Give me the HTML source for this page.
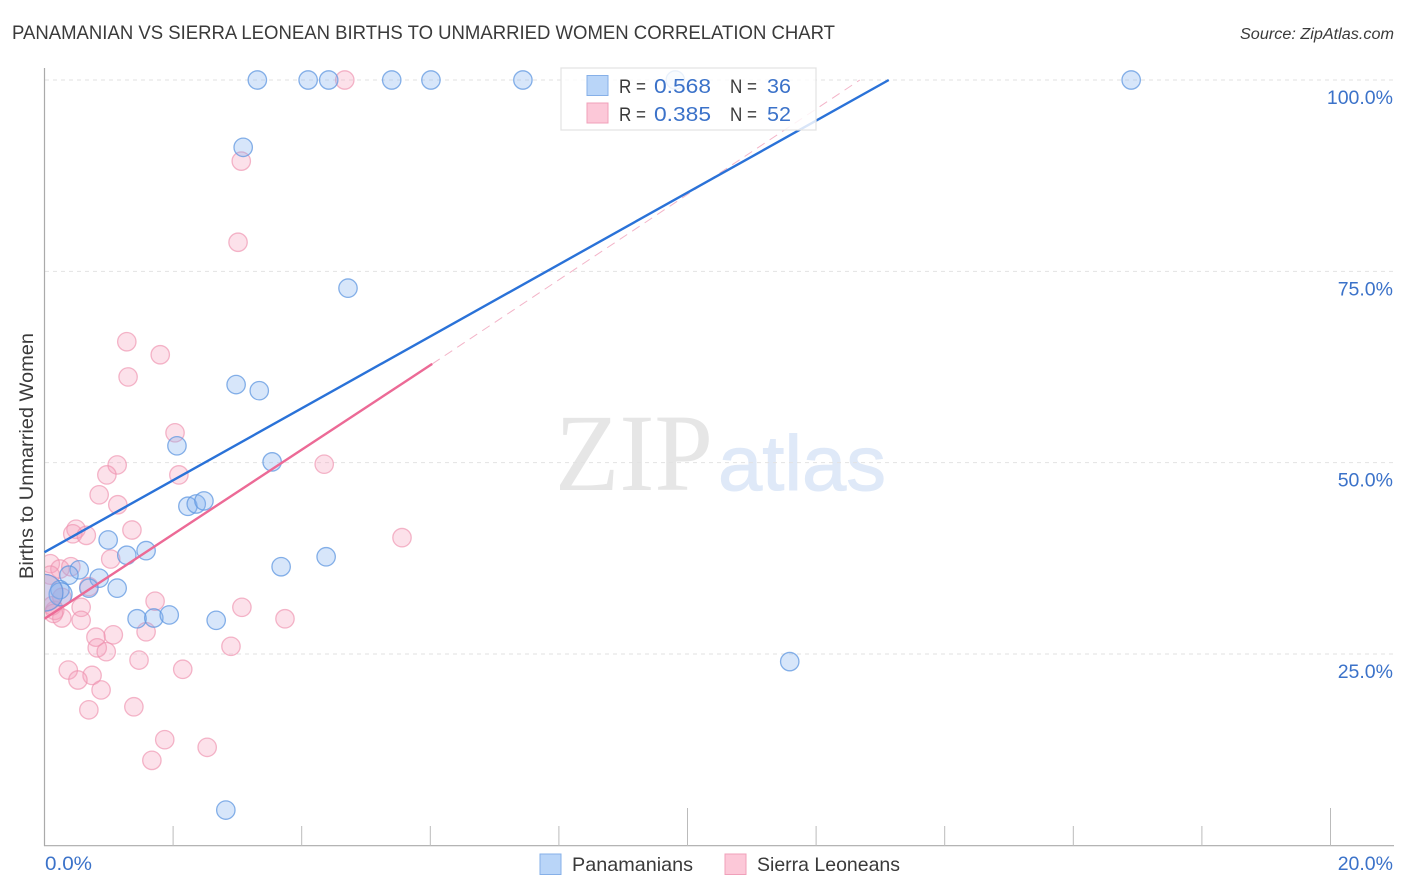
<!DOCTYPE html>
<html lang="en">
<head>
<meta charset="utf-8">
<title>Panamanian vs Sierra Leonean Births to Unmarried Women Correlation Chart</title>
<style>
html,body{margin:0;padding:0;background:#fff;}
svg{display:block;font-family:"Liberation Sans",sans-serif;}
</style>
</head>
<body>
<svg id="chart" xmlns="http://www.w3.org/2000/svg" width="1406" height="892" viewBox="0 0 1406 892">
  <defs>
    <clipPath id="plot-clip"><rect x="45" y="60" width="1349" height="786"/></clipPath>
  </defs>
  <rect x="0" y="0" width="1406" height="892" fill="#ffffff"/>
  <text x="12" y="39" font-size="19" fill="#3a3a3a" textLength="823" lengthAdjust="spacingAndGlyphs">PANAMANIAN VS SIERRA LEONEAN BIRTHS TO UNMARRIED WOMEN CORRELATION CHART</text>
  <text x="1394" y="39" font-size="15.5" font-style="italic" fill="#3a3a3a" text-anchor="end" textLength="154" lengthAdjust="spacingAndGlyphs">Source: ZipAtlas.com</text>
  <g id="watermark">
    <text x="555" y="490" font-family="'Liberation Serif',serif" font-size="110" fill="#e6e6e6" textLength="158" lengthAdjust="spacingAndGlyphs">ZIP</text>
    <text x="718" y="490" font-size="78" fill="#dfe9f8" stroke="#dfe9f8" stroke-width="1" textLength="168" lengthAdjust="spacingAndGlyphs">atlas</text>
  </g>
  <g id="grid"></g>
  <g id="axes"></g>
  <g id="pink-points" clip-path="url(#plot-clip)"></g>
  <g id="blue-points" clip-path="url(#plot-clip)"></g>
  <g id="trends"></g>
  <text transform="translate(33,456) rotate(-90)" font-size="19" fill="#3a3a3a" text-anchor="middle" textLength="246" lengthAdjust="spacingAndGlyphs">Births to Unmarried Women</text>
  <g id="ticklabels"></g>
  <g>
    <rect x="561" y="68" width="255" height="62" fill="#ffffff" fill-opacity="0.82" stroke="#e2e2e2" stroke-width="1.2"/>
    <rect x="587" y="75.500" width="21" height="20" fill="#b9d5f8" stroke="#86b0e8" stroke-width="1"/>
    <rect x="587" y="103" width="21" height="20" fill="#fcc8d8" stroke="#f0a0ba" stroke-width="1"/>
    <text x="619" y="93" font-size="19.500" fill="#3a3a3a" textLength="27" lengthAdjust="spacingAndGlyphs">R =</text>
    <text x="654" y="93" font-size="20.500" fill="#3b72c9" textLength="57" lengthAdjust="spacingAndGlyphs">0.568</text>
    <text x="730" y="93" font-size="19.500" fill="#3a3a3a" textLength="27" lengthAdjust="spacingAndGlyphs">N =</text>
    <text x="767" y="93" font-size="20.500" fill="#3b72c9" textLength="24" lengthAdjust="spacingAndGlyphs">36</text>
    <text x="619" y="121" font-size="19.500" fill="#3a3a3a" textLength="27" lengthAdjust="spacingAndGlyphs">R =</text>
    <text x="654" y="121" font-size="20.500" fill="#3b72c9" textLength="57" lengthAdjust="spacingAndGlyphs">0.385</text>
    <text x="730" y="121" font-size="19.500" fill="#3a3a3a" textLength="27" lengthAdjust="spacingAndGlyphs">N =</text>
    <text x="767" y="121" font-size="20.500" fill="#3b72c9" textLength="24" lengthAdjust="spacingAndGlyphs">52</text>
  </g>
  <g>
    <rect x="540" y="854" width="21" height="20.500" fill="#b9d5f8" stroke="#86b0e8" stroke-width="1"/>
    <text x="572" y="871" font-size="19.500" fill="#3a3a3a" textLength="121" lengthAdjust="spacingAndGlyphs">Panamanians</text>
    <rect x="725" y="854" width="21" height="20.500" fill="#fcc8d8" stroke="#f0a0ba" stroke-width="1"/>
    <text x="757" y="871" font-size="19.500" fill="#3a3a3a" textLength="143" lengthAdjust="spacingAndGlyphs">Sierra Leoneans</text>
  </g>
</svg>
<script>
var yTickValues = [25, 50, 75, 100];
var yTickLabels = ["25.0%", "50.0%", "75.0%", "100.0%"];
var xTickValues = [2, 4, 6, 8, 10, 12, 14, 16, 18, 20];
var xMajorTicks = [10, 20];
var xEndLabels = ["0.0%", "20.0%"];

var panamaniansX = [3.31, 4.10, 4.42, 5.40, 6.01, 7.44, 9.81, 16.90, 3.09, 4.72, 2.98, 3.34, 2.06, 3.54, 2.23, 2.36, 2.48, 0.99, 1.28, 1.58, 4.38, 3.68, 0.54, 0.38, 0.85, 0.69, 1.13, 0.24, 0.25, 1.44, 1.70, 1.94, 2.67, 11.59, 2.82, 0.00];
var panamaniansY = [100, 100, 100, 100, 100, 100, 100, 100, 91.2, 72.8, 60.2, 59.4, 52.2, 50.1, 44.3, 44.6, 45.0, 39.9, 37.9, 38.5, 37.7, 36.4, 36.0, 35.3, 34.9, 33.6, 33.6, 33.4, 32.8, 29.6, 29.7, 30.1, 29.4, 24.0, 4.6, 33.0];
var panamaniansWeight = [1, 1, 1, 1, 1, 1, 1, 1, 1, 1, 1, 1, 1, 1, 1, 1, 1, 1, 1, 1, 1, 1, 1, 1, 1, 1, 1, 1, 1.25, 1, 1, 1, 1, 1, 1, 2];

var sierraLeoneansX = [4.67, 3.06, 3.01, 1.28, 1.80, 1.30, 2.03, 1.13, 0.97, 2.09, 4.35, 0.85, 1.14, 1.36, 0.49, 0.44, 0.65, 5.56, 1.03, 0.09, 0.24, 0.41, 0.09, 0.00, 0.69, 1.72, 0.57, 3.07, 0.16, 0.12, 0.27, 0.57, 3.74, 1.58, 1.07, 0.80, 0.82, 0.96, 2.90, 1.47, 0.37, 2.15, 0.74, 0.52, 0.88, 0.69, 1.39, 1.87, 2.53, 1.67, 0.27, 0.14];
var sierraLeoneansY = [100, 89.4, 78.8, 65.8, 64.1, 61.2, 53.9, 49.7, 48.4, 48.4, 49.8, 45.8, 44.5, 41.2, 41.3, 40.7, 40.5, 40.2, 37.4, 36.8, 36.1, 36.4, 35.3, 33.0, 33.8, 31.9, 31.1, 31.1, 30.7, 31.3, 29.7, 29.4, 29.6, 27.9, 27.5, 27.2, 25.8, 25.3, 26.0, 24.2, 22.9, 23.0, 22.2, 21.6, 20.3, 17.7, 18.1, 13.8, 12.8, 11.1, 32.4, 30.3];
var sierraLeoneansWeight = [1, 1, 1, 1, 1, 1, 1, 1, 1, 1, 1, 1, 1, 1, 1, 1, 1, 1, 1, 1, 1, 1, 1, 2, 1, 1, 1, 1, 1, 1, 1, 1, 1, 1, 1, 1, 1, 1, 1, 1, 1, 1, 1, 1, 1, 1, 1, 1, 1, 1, 1, 1];

var panamaniansTrendX = [0, 13.13];
var panamaniansTrendY = [38.3, 100];
var sierraTrendSolidX = [0, 6.03];
var sierraTrendSolidY = [29.6, 62.9];
var sierraTrendDashX = [6.03, 12.68];
var sierraTrendDashY = [62.9, 100];

function xScale(v) { return 44.5 + v * 64.3; }
function yScale(v) { return 845.3 - v * 7.653; }

var NS = "http://www.w3.org/2000/svg";
function make(tag, parentId, attrs, text) {
  var el = document.createElementNS(NS, tag);
  for (var k in attrs) { el.setAttribute(k, attrs[k]); }
  if (text !== undefined) { el.textContent = text; }
  document.getElementById(parentId).appendChild(el);
  return el;
}

yTickValues.forEach(function (v, i) {
  var y = yScale(v);
  var line = make("line", "grid", {x1: 45, x2: 1393, y1: y, y2: y, stroke: "#e2e2e2", "stroke-width": 1, "stroke-dasharray": "4 4"});
  
  
  var label = make("text", "ticklabels", {x: 1393, y: y + 24, "font-size": 19.5, fill: "#3b72c9", "text-anchor": "end"}, yTickLabels[i]);
  
  
});

var yAxis = make("line", "axes", {x1: 44.5, x2: 44.5, y1: 68, y2: 846, stroke: "#aaaaaa", "stroke-width": 1.2});


var xAxis = make("line", "axes", {x1: 44, x2: 1394, y1: 845.7, y2: 845.7, stroke: "#aaaaaa", "stroke-width": 1.2});



xTickValues.forEach(function (v) {
  var x = xScale(v);
  var top = xMajorTicks.indexOf(v) >= 0 ? 808 : 826;
  var tick = make("line", "axes", {x1: x, x2: x, y1: top, y2: 846, stroke: "#bbbbbb", "stroke-width": 1});
  
  
});

var xLabelLeft = make("text", "ticklabels", {x: 45, y: 870, "font-size": 19.5, fill: "#3b72c9", textLength: 47, lengthAdjust: "spacingAndGlyphs"}, xEndLabels[0]);


var xLabelRight = make("text", "ticklabels", {x: 1393, y: 870, "font-size": 19.5, fill: "#3b72c9", "text-anchor": "end"}, xEndLabels[1]);



sierraLeoneansX.forEach(function (v, i) {
  var dot = make("circle", "pink-points", {cx: xScale(v), cy: yScale(sierraLeoneansY[i]), r: 9.2 * sierraLeoneansWeight[i], fill: "#f59ab8", "fill-opacity": 0.3, stroke: "#ee90ae", "stroke-opacity": 0.65, "stroke-width": 1.3});
  
  
});

panamaniansX.forEach(function (v, i) {
  var dot = make("circle", "blue-points", {cx: xScale(v), cy: yScale(panamaniansY[i]), r: 9.2 * panamaniansWeight[i], fill: "#82b2f0", "fill-opacity": 0.32, stroke: "#5f97e0", "stroke-opacity": 0.75, "stroke-width": 1.3});
  
  
});

var dashTrend = make("line", "trends", {x1: xScale(sierraTrendDashX[0]), y1: yScale(sierraTrendDashY[0]), x2: xScale(sierraTrendDashX[1]), y2: yScale(sierraTrendDashY[1]), stroke: "#f3b4c8", "stroke-width": 1, "stroke-dasharray": "9 6"});


var pinkTrend = make("line", "trends", {x1: xScale(sierraTrendSolidX[0]), y1: yScale(sierraTrendSolidY[0]), x2: xScale(sierraTrendSolidX[1]), y2: yScale(sierraTrendSolidY[1]), stroke: "#ec6a96", "stroke-width": 2.4});


var blueTrend = make("line", "trends", {x1: xScale(panamaniansTrendX[0]), y1: yScale(panamaniansTrendY[0]), x2: xScale(panamaniansTrendX[1]), y2: yScale(panamaniansTrendY[1]), stroke: "#2a72d8", "stroke-width": 2.4});


</script>
</body>
</html>
